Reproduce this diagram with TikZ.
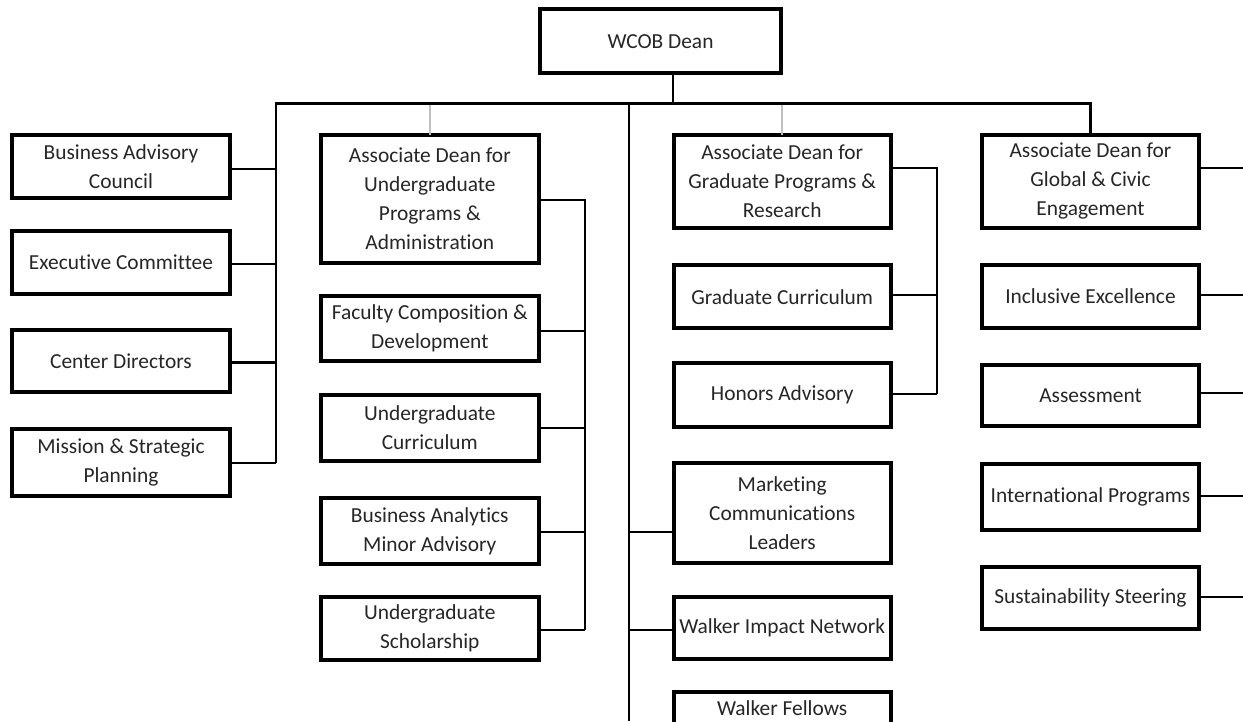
\documentclass[tikz,border=0pt]{standalone}
\usepackage{fontspec}
\setmainfont{Carlito}[Ligatures={NoCommon}]
\begin{document}
\begin{tikzpicture}[x=1pt,y=-1pt,
  box/.style={draw=black, line width=4pt, fill=white, inner sep=0pt, outer sep=0pt,
    align=center, text=black!85, font=\fontsize{21.4}{29}\selectfont, minimum width=217pt},
  link/.style={line width=2.2pt, draw=black},
  glink/.style={line width=2pt, draw=black!25}]
\useasboundingbox (0,0) rectangle (1243,721);
\clip (0,0) rectangle (1243,721);

% top
\node[box, minimum width=241.6pt, minimum height=63.7pt] (dean) at (660.5,41.2) {WCOB Dean};

% left column
\node[box, minimum width=218pt, minimum height=63.6pt] (bac) at (121,166.5) {Business Advisory\\Council};
\node[box, minimum width=218pt, minimum height=63.3pt] (ec) at (121,262.3) {Executive Committee};
\node[box, minimum width=218pt, minimum height=62.6pt] (cd) at (121,361) {Center Directors};
\node[box, minimum width=218pt, minimum height=67pt] (msp) at (121,462.2) {Mission \& Strategic\\Planning};

% undergraduate column
\node[box, minimum width=217.7pt, minimum height=128.3pt] (adu) at (429.8,198.8) {Associate Dean for\\Undergraduate\\Programs \&\\Administration};
\node[box, minimum width=217.7pt, minimum height=64.7pt] (fcd) at (429.8,328.6) {Faculty Composition \&\\Development};
\node[box, minimum width=217.7pt, minimum height=66pt] (ucur) at (429.8,427.7) {Undergraduate\\Curriculum};
\node[box, minimum width=217.7pt, minimum height=66pt] (bama) at (429.8,531) {Business Analytics\\Minor Advisory};
\node[box, minimum width=217.7pt, minimum height=62.7pt] (usch) at (429.8,628.6) {Undergraduate\\Scholarship};

% graduate column
\node[box, minimum width=217pt, minimum height=93.3pt] (adg) at (782.2,181.3) {Associate Dean for\\Graduate Programs \&\\Research};
\node[box, minimum width=217pt, minimum height=62.7pt] (gcur) at (782.2,296.7) {Graduate Curriculum};
\node[box, minimum width=217pt, minimum height=63.7pt] (hon) at (782.2,394.8) {Honors Advisory};
\node[box, minimum width=217pt, minimum height=100pt] (mcl) at (782.2,513) {Marketing\\Communications\\Leaders};
\node[box, minimum width=217pt, minimum height=61.7pt] (win) at (782.2,628.2) {Walker Impact Network};
\node[box, minimum width=217pt, minimum height=31.7pt] (wf) at (782.2,708.2) {Walker Fellows};

% global column
\node[box, minimum width=217pt, minimum height=93.3pt] (adgc) at (1090.5,181.3) {Associate Dean for\\Global \& Civic\\Engagement};
\node[box, minimum width=217pt, minimum height=62.4pt] (ie) at (1090.5,296.5) {Inclusive Excellence};
\node[box, minimum width=217pt, minimum height=61.6pt] (ass) at (1090.5,395.5) {Assessment};
\node[box, minimum width=217pt, minimum height=66pt] (ip) at (1090.5,496.7) {International Programs};
\node[box, minimum width=217pt, minimum height=61.7pt] (ss) at (1090.5,597.8) {Sustainability Steering};

% bus coordinates
\coordinate (lbtop) at (276,103.5);
\coordinate (lbbot) at (276,463);
\coordinate (mbtop) at (628.7,103.5);
\coordinate (mbbot) at (628.7,721);
\coordinate (rim) at (1243,0);

% gray links
\draw[glink] (adu.north |- lbtop) -- (adu.north);
\draw[glink] (adg.north |- lbtop) -- (adg.north);

% main tree
\draw[link] (dean.south -| 673,0) -- (673,103.5);
\draw[link] (lbbot) -- (lbtop) -- (adgc.north |- lbtop) -- (adgc.north);
\draw[link] (mbtop) -- (mbbot);

% left column links
\draw[link] (bac.east |- 0,168.7) -- (lbtop |- 0,168.7);
\draw[link] (ec.east |- 0,264.3) -- (lbtop |- 0,264.3);
\draw[link] (cd.east |- 0,362.5) -- (lbtop |- 0,362.5);
\draw[link] (msp.east |- 0,462.7) -- (lbtop |- 0,462.7);

% undergraduate links
\draw[link] (adu.east |- 0,200) -- (585,200) -- (585,630.3);
\draw[link] (fcd.east |- 0,331) -- (585,331);
\draw[link] (ucur.east |- 0,428.3) -- (585,428.3);
\draw[link] (bama.east |- 0,531.7) -- (585,531.7);
\draw[link] (usch.east |- 0,630.3) -- (585,630.3);

% middle bus links
\draw[link] (mbtop |- 0,531.7) -- (mcl.west |- 0,531.7);
\draw[link] (mbtop |- 0,630.3) -- (win.west |- 0,630.3);

% graduate links
\draw[link] (adg.east |- 0,168.3) -- (937.3,168.3) -- (937.3,394.3);
\draw[link] (gcur.east |- 0,295) -- (937.3,295);
\draw[link] (hon.east |- 0,394.3) -- (937.3,394.3);

% global links to the right edge
\draw[link] (adgc.east |- 0,168.3) -- (rim |- 0,168.3);
\draw[link] (ie.east |- 0,295) -- (rim |- 0,295);
\draw[link] (ass.east |- 0,393.3) -- (rim |- 0,393.3);
\draw[link] (ip.east |- 0,496) -- (rim |- 0,496);
\draw[link] (ss.east |- 0,596.7) -- (rim |- 0,596.7);
\end{tikzpicture}
\end{document}
